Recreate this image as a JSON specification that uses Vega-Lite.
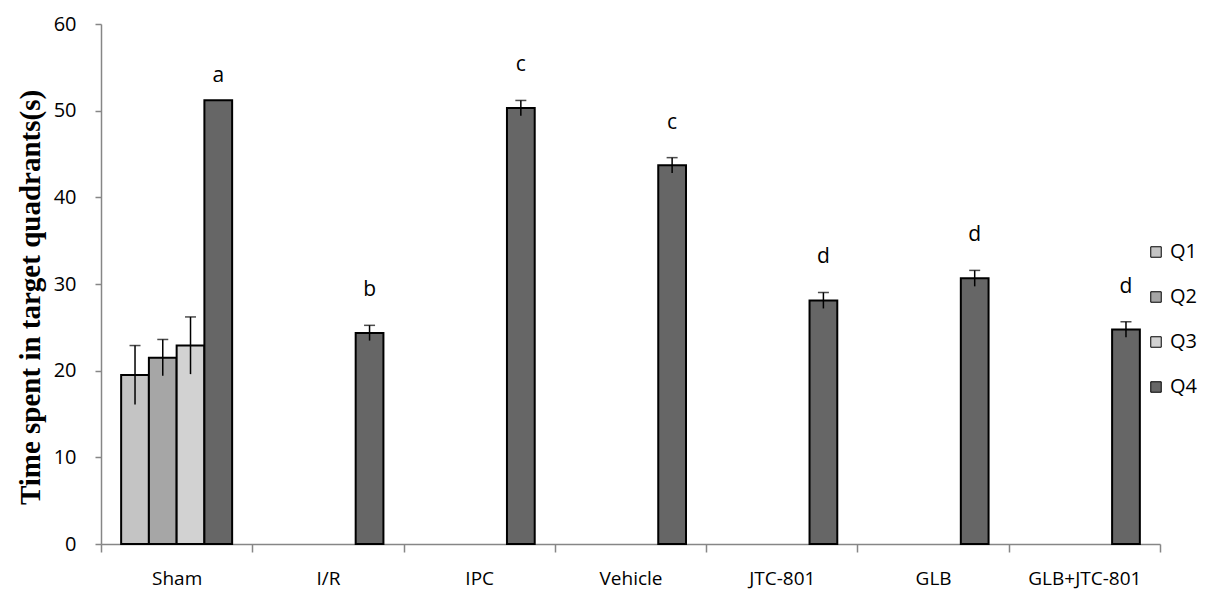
{
  "$schema": "https://vega.github.io/schema/vega-lite/v6.json",
  "width": 1059,
  "height": 520,
  "autosize": {"type": "none"},
  "padding": {"left": 101, "top": 24, "right": 48, "bottom": 48},
  "background": "white",
  "config": {"view": {"stroke": null}, "font": "Open Sans"},
  "data": {
    "values": [
      {"group": "Sham", "q": "Q1", "value": 19.5, "lo": 16.1, "hi": 22.9},
      {"group": "Sham", "q": "Q2", "value": 21.5, "lo": 19.4, "hi": 23.6},
      {"group": "Sham", "q": "Q3", "value": 22.9, "lo": 19.6, "hi": 26.2},
      {"group": "Sham", "q": "Q4", "value": 51.2, "hi": 50.0, "letter": "a"},
      {"group": "I/R", "q": "Q4", "value": 24.35, "lo": 23.47, "hi": 25.23, "letter": "b"},
      {"group": "IPC", "q": "Q4", "value": 50.3, "lo": 49.42, "hi": 51.18, "letter": "c"},
      {"group": "Vehicle", "q": "Q4", "value": 43.7, "lo": 42.82, "hi": 44.58, "letter": "c"},
      {"group": "JTC-801", "q": "Q4", "value": 28.1, "lo": 27.18, "hi": 29.02, "letter": "d"},
      {"group": "GLB", "q": "Q4", "value": 30.65, "lo": 29.73, "hi": 31.57, "letter": "d"},
      {"group": "GLB+JTC-801", "q": "Q4", "value": 24.75, "lo": 23.85, "hi": 25.65, "letter": "d"}
    ]
  },
  "encoding": {
    "x": {
      "field": "group",
      "type": "nominal",
      "sort": ["Sham", "I/R", "IPC", "Vehicle", "JTC-801", "GLB", "GLB+JTC-801"],
      "scale": {"paddingInner": 0, "paddingOuter": 0},
      "axis": {
        "title": null,
        "tickBand": "extent",
        "tickSize": 8,
        "domainColor": "#868686",
        "tickColor": "#868686",
        "domainWidth": 1.5,
        "tickWidth": 1.5,
        "labelFontSize": 19,
        "labelColor": "black",
        "labelPadding": 17,
        "labelAngle": 0
      }
    },
    "xOffset": {
      "field": "q",
      "type": "nominal",
      "sort": ["Q1", "Q2", "Q3", "Q4"],
      "scale": {"paddingInner": 0, "paddingOuter": 0.726}
    }
  },
  "layer": [
    {
      "mark": {"type": "bar", "stroke": "black", "strokeWidth": 2},
      "encoding": {
        "y": {
          "field": "value",
          "type": "quantitative",
          "scale": {"domain": [0, 60], "nice": false},
          "axis": {
            "values": [0, 10, 20, 30, 40, 50, 60],
            "grid": false,
            "tickSize": 6,
            "domainColor": "#868686",
            "tickColor": "#868686",
            "domainWidth": 1.5,
            "tickWidth": 1.5,
            "labelFontSize": 20,
            "labelColor": "black",
            "labelPadding": 19,
            "title": "Time spent in target quadrants(s)",
            "titleFont": "Liberation Serif",
            "titleFontWeight": "bold",
            "titleFontSize": 29,
            "titleColor": "black",
            "titlePadding": 8,
            "titleY": 273
          }
        },
        "color": {
          "field": "q",
          "type": "nominal",
          "sort": ["Q1", "Q2", "Q3", "Q4"],
          "scale": {"domain": ["Q1", "Q2", "Q3", "Q4"], "range": ["#c4c4c4", "#a6a6a6", "#d2d2d2", "#666666"]},
          "legend": {
            "orient": "none",
            "legendX": 1045,
            "legendY": 218,
            "title": null,
            "symbolType": "square",
            "symbolSize": 110,
            "symbolStrokeColor": "black",
            "symbolStrokeWidth": 1,
            "labelFontSize": 20,
            "labelColor": "black",
            "labelOffset": 4,
            "rowPadding": 25
          }
        }
      }
    },
    {
      "transform": [{"filter": "datum.lo != null"}],
      "mark": {"type": "rule", "color": "black", "strokeWidth": 1.5},
      "encoding": {
        "y": {"field": "lo", "type": "quantitative"},
        "y2": {"field": "hi"}
      }
    },
    {
      "transform": [{"filter": "datum.lo != null"}],
      "mark": {"type": "tick", "color": "black", "thickness": 1.5, "size": 11},
      "encoding": {
        "y": {"field": "hi", "type": "quantitative"}
      }
    },
    {
      "transform": [{"filter": "datum.letter != null"}],
      "mark": {"type": "text", "dy": -35, "fontSize": 21, "color": "black"},
      "encoding": {
        "y": {"field": "hi", "type": "quantitative"},
        "text": {"field": "letter"}
      }
    }
  ]
}
